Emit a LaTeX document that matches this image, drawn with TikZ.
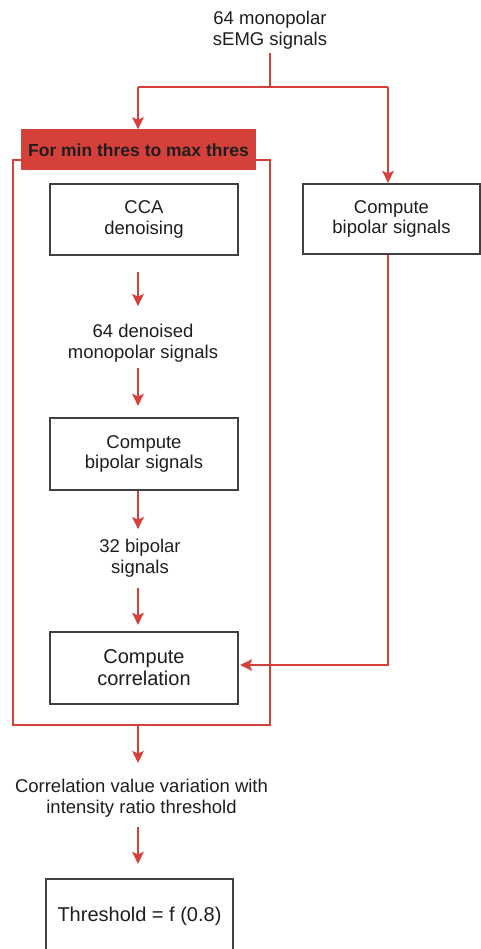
\documentclass[tikz,border=0pt]{standalone}
\usepackage{fontspec}
\setmainfont{Liberation Sans}
\usetikzlibrary{arrows.meta,calc}
\definecolor{myred}{RGB}{214,64,58}
\definecolor{mygrey}{RGB}{64,64,64}
\definecolor{mytext}{RGB}{30,30,30}
\tikzset{
  procbox/.style={draw=mygrey,line width=2.2pt,fill=white,align=center,text=mytext,inner sep=0pt},
  lbl/.style={align=center,text=mytext,inner sep=0pt},
  arr/.style={draw=myred,line width=2pt,-{Stealth[length=12pt,width=11.5pt,inset=2.5pt]}},
  rline/.style={draw=myred,line width=2pt},
  fs/.style={font=\fontsize{18.5}{20.5}\selectfont},
  fl/.style={font=\fontsize{20}{22}\selectfont},
}
\begin{document}
\begin{tikzpicture}[x=1pt,y=-1pt]
\useasboundingbox (0,0) rectangle (481,949);
% top text
\node[lbl,fs] (top) at (270,30) {64 monopolar\\sEMG signals};
\coordinate (j) at (270,87);
\coordinate (jl) at (138,87);
\coordinate (jr) at (388,87);
\coordinate (bend) at (388,665);
% frame
\draw[rline] (13,160) rectangle (270,725);
\coordinate (frameb) at (138,725);
% header
\node[fill=myred,minimum width=235pt,minimum height=41pt,inner sep=0pt,text=mytext,font=\bfseries\fontsize{17.5}{20}\selectfont] (hdr) at (138.5,150) {For min thres to max thres};
% boxes
\node[procbox,fs,minimum width=188pt,minimum height=71pt] (cca) at (144,219.5) {CCA\\denoising};
\node[procbox,fs,minimum width=177pt,minimum height=70pt] (rbox) at (391.5,219) {Compute\\bipolar signals};
\node[lbl,fs] (den) at (143,343) {64 denoised\\monopolar signals};
\node[procbox,fs,minimum width=188pt,minimum height=72pt] (bip) at (144,454) {Compute\\bipolar signals};
\node[lbl,fs] (t32) at (140,558) {32 bipolar\\signals};
\node[procbox,fl,minimum width=188pt,minimum height=72pt] (corr) at (144,668) {Compute\\correlation};
\node[lbl,fs] (fin) at (141.5,798) {Correlation value variation with\\intensity ratio threshold};
\node[procbox,fl,minimum width=187pt,minimum height=74pt] (thr) at (139.5,916) {Threshold = f (0.8)};
% connectors
\draw[rline] ($(top.south)+(0,4)$) -- (j);
\draw[rline] (jl) -- (jr);
\draw[arr] (jl) -- (hdr.north -| jl);
\draw[arr] (jr) -- (rbox.north -| jr);
\draw[arr] ($(cca.south -| jl)+(0,16)$) -- ($(cca.south -| jl)+(0,50)$);
\draw[arr] ($(den.south -| jl)+(0,6)$) -- ($(bip.north -| jl)+(0,-11)$);
\draw[arr] (bip.south -| jl) -- ($(bip.south -| jl)+(0,38)$);
\draw[arr] ($(t32.south -| jl)+(0,11)$) -- ($(corr.north -| jl)+(0,-6)$);
\draw[arr] (rbox.south -| jr) -- (bend) -- ([xshift=1pt]corr.east |- bend);
\draw[arr] (frameb) -- ($(frameb)+(0,38)$);
\draw[arr] ($(fin.south -| jl)+(0,10)$) -- ($(thr.north -| jl)+(0,-14)$);
\end{tikzpicture}
\end{document}
